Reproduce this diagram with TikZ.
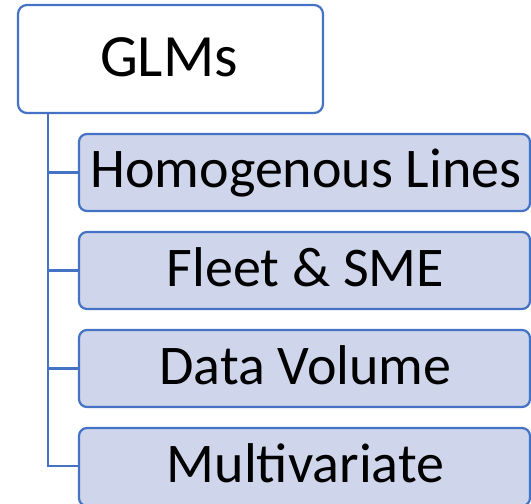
\documentclass[tikz,border=0pt]{standalone}
\usepackage{fontspec}
\setmainfont{Carlito}
\definecolor{edgeblue}{HTML}{4472C4}
\definecolor{itemfill}{HTML}{CFD5EA}
\begin{document}
\begin{tikzpicture}[x=1pt,y=-1pt,
  rootbox/.style={draw=edgeblue, line width=2.2pt, fill=white, rounded corners=9pt},
  itembox/.style={draw=edgeblue, line width=2.2pt, fill=itemfill, rounded corners=8pt},
  rootlabel/.style={font=\fontsize{60}{70}\selectfont, text=black, inner sep=0pt, anchor=base},
  label/.style={font=\fontsize{56}{66}\selectfont, text=black, inner sep=0pt, anchor=base},
  link/.style={draw=edgeblue, line width=2.2pt}]
  \useasboundingbox (0,0) rectangle (531,504);
  % tree connectors
  \coordinate (trunk) at (48,113);
  \coordinate (t1) at (48,172.5);
  \coordinate (t2) at (48,270.5);
  \coordinate (t3) at (48,368.5);
  \coordinate (t4) at (48,466);
  \draw[link] (trunk) -- (t4) -- (79,466);
  \foreach \c in {t1,t2,t3} \draw[link] (\c) -- ++(31,0);
  % root
  \draw[rootbox] (18,5) rectangle (323,113);
  \node[rootlabel] (root) at (169,76.5) {GLMs};
  % items
  \draw[itembox] (79,134) rectangle (530,211);
  \node[label] (i1) at (306,187.5) {Homogenous Lines};
  \draw[itembox] (79,232) rectangle (530,309);
  \node[label] (i2) at (305.5,286.5) {Fleet \& SME};
  \draw[itembox] (79,330) rectangle (530,407);
  \node[label] (i3) at (305.5,384.5) {Data Volume};
  \draw[itembox] (79,428) rectangle (530,506);
  \node[label] (i4) at (305.5,482) {Multivariate};
\end{tikzpicture}
\end{document}
